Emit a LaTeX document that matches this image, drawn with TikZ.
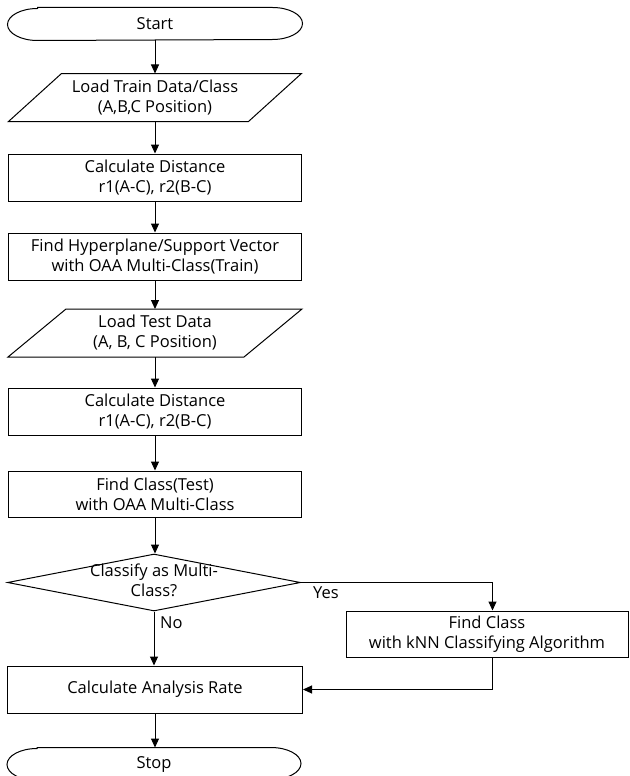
\documentclass[tikz,border=0pt]{standalone}
\usepackage{fontspec}
\setmainfont{Open Sans}
\usetikzlibrary{shapes.geometric,arrows.meta}
\tikzset{
 base/.style={font=\fontsize{16.5}{20}\selectfont, align=center, inner sep=0pt, line width=1pt},
 procbox/.style={base, draw, rectangle, minimum width=293pt, minimum height=47pt},
 iobox/.style={base, rectangle, minimum width=239pt, minimum height=47pt},
 termbox/.style={base, rectangle, minimum width=294pt, minimum height=32pt},
 decbox/.style={base, draw, diamond, minimum width=293pt, minimum height=57pt},
 flow/.style={line width=1pt, -{Triangle[length=9pt,width=8pt]}},
 lbl/.style={font=\fontsize{16.5}{20}\selectfont, inner sep=0pt, anchor=west},
 outline/.style={line width=1pt},
}
\newcommand{\iodraw}[2]{\draw[outline] ([xshift=#2]#1.north west) -- ([xshift=#2]#1.north east) -- ([xshift=-#2]#1.south east) -- ([xshift=-#2]#1.south west) -- cycle;}
\newcommand{\termdraw}[1]{\draw[outline] ([xshift=30pt]#1.north west) -- ([xshift=-30pt]#1.north east) arc[start angle=90,end angle=-90,x radius=30pt,y radius=16pt] -- ([xshift=30pt]#1.south west) arc[start angle=270,end angle=90,x radius=30pt,y radius=16pt] -- cycle;}
\begin{document}
\begin{tikzpicture}[x=1pt,y=-1pt]
\useasboundingbox (0,0) rectangle (629,776);
\node[termbox] (start) at (155,24) {Start};
\termdraw{start}
\node[iobox] (ltrain) at (155,97.5) {Load Train Data/Class\\(A,B,C Position)};
\iodraw{ltrain}{26.5pt}
\node[procbox] (dist1) at (155,177.5) {Calculate Distance\\r1(A-C), r2(B-C)};
\node[procbox] (hyper) at (155,256.5) {Find Hyperplane/Support Vector\\with OAA Multi-Class(Train)};
\node[iobox, minimum width=235pt] (ltest) at (155,333) {Load Test Data\\(A, B, C Position)};
\iodraw{ltest}{29pt}
\node[procbox] (dist2) at (155,411.5) {Calculate Distance\\r1(A-C), r2(B-C)};
\node[procbox, minimum height=46pt] (fclass) at (155,494) {Find Class(Test)\\with OAA Multi-Class};
\node[decbox] (dec) at (154,582.5) {};
\node[base] (dectext) at (154,580) {Classify as Multi-\\Class?};
\node[procbox, minimum width=282pt, minimum height=46pt] (knn) at (487,634) {Find Class\\with kNN Classifying Algorithm};
\node[procbox, minimum width=295pt] (rate) at (155,689.5) {Calculate Analysis Rate};
\node[termbox, minimum width=293pt] (stop) at (154,764) {Stop};
\termdraw{stop}
\node[lbl] (yes) at (313,593) {Yes};
\node[lbl] (no) at (160,623) {No};
\draw[flow] (start.south) -- (ltrain.north);
\draw[flow] (ltrain.south) -- (dist1.north);
\draw[flow] (dist1.south) -- (hyper.north);
\draw[flow] (hyper.south) -- (ltest.north);
\draw[flow] (ltest.south) -- (dist2.north);
\draw[flow] (dist2.south) -- (fclass.north);
\draw[flow] (fclass.south) -- (fclass.south |- dec.north);
\draw[flow] (dec.south) -- (dec.south |- rate.north);
\draw[flow] (dec.east) -| ([xshift=5.5pt]knn.north);
\draw[flow] ([xshift=5.5pt]knn.south) |- (rate.east);
\draw[flow] (rate.south) -- (rate.south |- stop.north);
\end{tikzpicture}
\end{document}
